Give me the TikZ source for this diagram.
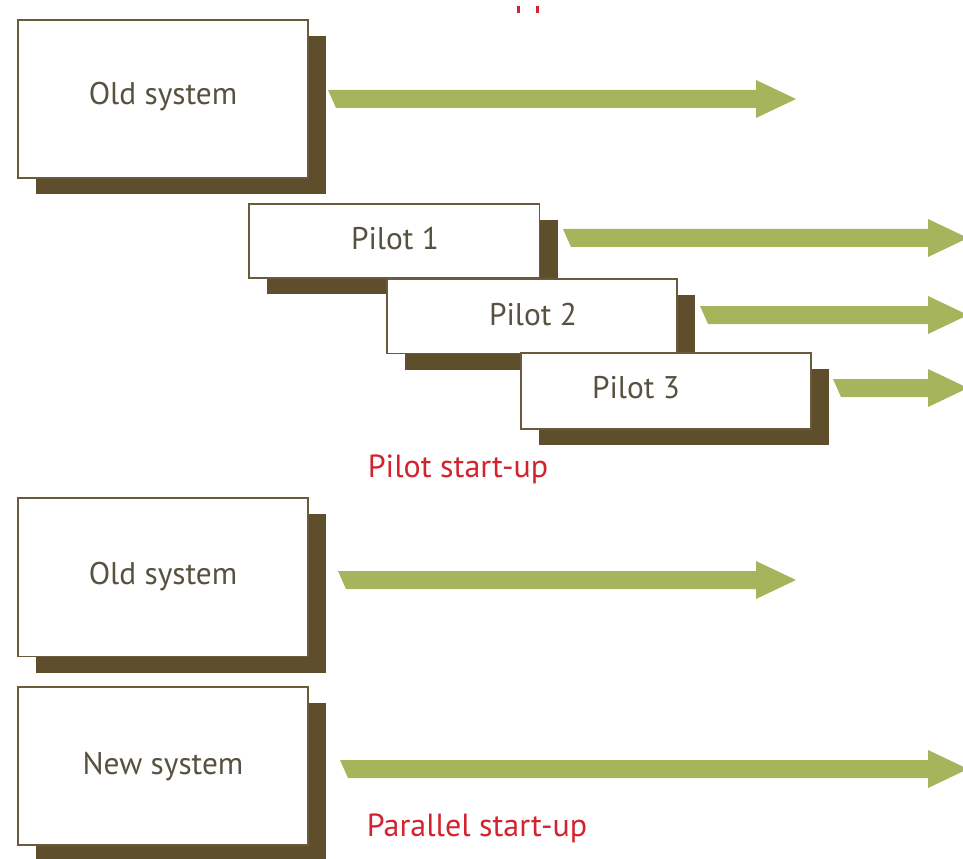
\documentclass[tikz,border=0pt]{standalone}
\usepackage{fontspec}
\setmainfont{PT Sans}
\usetikzlibrary{shadows}
\definecolor{shade}{HTML}{5E4E2B}
\definecolor{frame}{HTML}{6B5B3C}
\definecolor{leaf}{HTML}{A6B45C}
\definecolor{ink}{HTML}{57513F}
\definecolor{note}{HTML}{D2232E}
\tikzset{
  sysbox/.style={draw=frame, line width=1.1pt, fill=white, anchor=north west,
    inner sep=0pt, outer sep=0pt,
    drop shadow={shadow xshift=13.5pt, shadow yshift=-12pt, fill=shade, opacity=1}},
  boxtext/.style={text=ink, font=\fontsize{23.5}{28}\selectfont, inner sep=0pt},
  redtext/.style={text=note, font=\fontsize{24}{28}\selectfont, inner sep=0pt},
}
% flat green arrow: start x, centre y, tip x
\newcommand{\flatarrow}[3]{%
  \fill[leaf] (#1,#2-9) -- (#3-40,#2-9) -- (#3-40,#2-19) -- (#3,#2)
    -- (#3-40,#2+19) -- (#3-40,#2+9) -- (#1+8,#2+9) -- cycle;}
\begin{document}
\begin{tikzpicture}[x=0.75pt, y=-0.75pt]
\useasboundingbox (0,0) rectangle (963,859);
\clip (0,0) rectangle (963,859);

% remnants of the heading above
\fill[note] (517,6) rectangle (519.5,13);
\fill[note] (536,6) rectangle (538.5,13);

% pilot start-up
\node[sysbox, minimum width=217.5pt, minimum height=118.5pt] (old1) at (18,20) {};
\node[boxtext] (old1t) at (163,97) {Old system};
\flatarrow{328}{99}{796}

\node[sysbox, minimum width=218pt, minimum height=55.5pt] (p1) at (249,204) {};
\node[boxtext] (p1t) at (395,239) {Pilot 1};
\node[sysbox, minimum width=217.5pt, minimum height=56pt] (p2) at (387,279) {};
\node[boxtext] (p2t) at (533,315) {Pilot 2};
\node[sysbox, minimum width=217.5pt, minimum height=57pt] (p3) at (521,353) {};
\node[boxtext] (p3t) at (636,388) {Pilot 3};
\flatarrow{563}{238}{968}
\flatarrow{700}{315}{968}
\flatarrow{833}{388}{968}

\node[redtext] (pilotlab) at (458,469) {Pilot start-up};

% parallel start-up
\node[sysbox, minimum width=217.5pt, minimum height=119pt] (old2) at (18,498) {};
\node[boxtext] (old2t) at (163,577) {Old system};
\flatarrow{338}{580}{796}

\node[sysbox, minimum width=217.5pt, minimum height=118.5pt] (new) at (18,687) {};
\node[boxtext] (newt) at (163,767) {New system};
\flatarrow{340}{769}{968}

\node[redtext] (parlab) at (477,828) {Parallel start-up};
\end{tikzpicture}
\end{document}
